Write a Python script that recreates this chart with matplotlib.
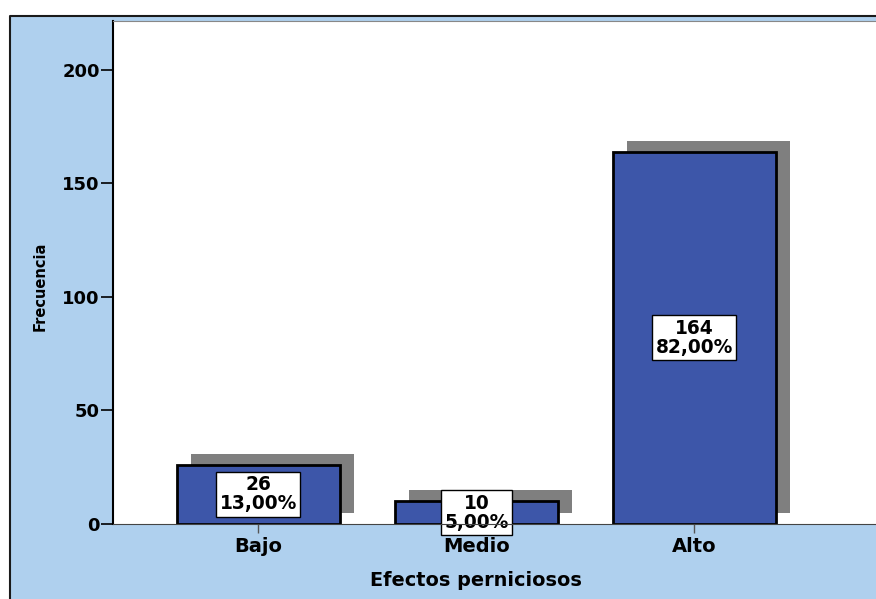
import matplotlib
matplotlib.use("Agg")
import matplotlib.pyplot as plt
from matplotlib.patches import Rectangle

categories = ["Bajo", "Medio", "Alto"]
counts = [26, 10, 164]
percents = ["13,00%", "5,00%", "82,00%"]
yticks = [0, 50, 100, 150, 200]

C_BG, C_BAR, C_SHADOW = "#afd0ee", "#3d56a9", "#7f7f7f"

plt.rcParams["font.family"] = ["DejaVu Sans"]
fig = plt.figure(figsize=(8.76, 5.99), dpi=100)
fig.patch.set_facecolor("white")
# blue frame with dark left/top edge
fig.patches.append(Rectangle((10 / 876, 0), 1, 1 - 16 / 599, transform=fig.transFigure,
                             facecolor=C_BG, edgecolor="none", zorder=-10))
fig.lines.append(plt.Line2D([10 / 876, 10 / 876, 1], [0, 1 - 16 / 599, 1 - 16 / 599],
                            transform=fig.transFigure, color="#1a1a1a", lw=1.5, zorder=-9))

ax = fig.add_axes([113 / 876, 1 - 524 / 599, 1 - 113 / 876, (524 - 21) / 599])
ax.set_facecolor("white")
x = list(range(len(categories)))
w = 0.748
dx, dy = 0.066, 5.3
ax.bar([i + dx for i in x], counts, width=w, bottom=dy - 0.5, color=C_SHADOW, zorder=1)
ax.bar(x, counts, width=w, color=C_BAR, edgecolor="black", lw=2, zorder=2)
for i, (c, p) in enumerate(zip(counts, percents)):
    ax.text(i, c / 2, f"{c}\n{p}", ha="center", va="center", fontsize=13.4, fontweight="bold",
            linespacing=1.0, zorder=5, clip_on=False,
            bbox=dict(boxstyle="square,pad=0.18", fc="white", ec="black", lw=1))

ax.set_xlim(-0.667, 2.833)
ax.set_ylim(0, 221.5)
ax.set_yticks(yticks)
ax.set_xticks(x)
ax.set_xticklabels(categories)
ax.tick_params(axis="y", length=9, width=1.2, labelsize=13, pad=0.5)
ax.tick_params(axis="x", length=6.5, width=1, color="#555555", labelsize=14, pad=3)
for lab in ax.get_xticklabels() + ax.get_yticklabels():
    lab.set_fontweight("bold")
ax.spines["right"].set_visible(False)
ax.spines["left"].set_linewidth(1.5)
ax.spines["bottom"].set_color("#444444")
ax.spines["top"].set_color("#888888")
ax.spines["bottom"].set_zorder(6)   # axis line runs over the low label box, as in the original

fig.text(476 / 876, 1 - 580 / 599, "Efectos perniciosos", ha="center", va="center",
         fontsize=13.9, fontweight="bold")
fig.text(40 / 876, 1 - 286 / 599, "Frecuencia", ha="center", va="center", rotation=90,
         fontsize=10.5, fontweight="bold")

fig.savefig("out.png", dpi=100)
